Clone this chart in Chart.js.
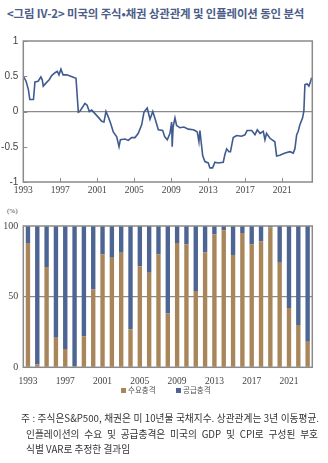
<!DOCTYPE html>
<html><head><meta charset="utf-8">
<script src="https://cdn.jsdelivr.net/npm/chart.js@4"></script>
<style>
body{margin:0;width:328px;height:463px;background:#fff;position:relative;overflow:hidden;font-family:"Noto Sans CJK KR",sans-serif;}
#title{position:absolute;left:7px;top:6px;font-size:11.4px;line-height:14px;font-weight:bold;color:#4b5d88;white-space:nowrap;letter-spacing:-0.1px;}
#c1wrap{position:absolute;left:0;top:30px;width:328px;height:170px;}
#c2wrap{position:absolute;left:0;top:215px;width:328px;height:175px;}
#pct{position:absolute;left:7px;top:207px;font-size:7px;line-height:9px;color:#444;font-family:"Liberation Serif",serif;}
.lg{position:absolute;top:385px;font-size:7.5px;line-height:10px;color:#555;white-space:nowrap;}
.sq{display:inline-block;width:5px;height:5px;margin-right:2px;vertical-align:0px;}
.note{position:absolute;font-size:9.7px;line-height:15px;color:#333;white-space:nowrap;}
.just{text-align:justify;text-align-last:justify;white-space:normal;}
</style></head>
<body>
<div id="title">&lt;그림 IV-2&gt; 미국의 주식•채권 상관관계 및 인플레이션 동인 분석</div>
<div id="c1wrap"><canvas id="c1"></canvas></div>
<div id="pct">(%)</div>
<div id="c2wrap"><canvas id="c2"></canvas></div>
<div class="lg" style="left:121px"><span class="sq" style="background:#a9855a"></span>수요충격</div>
<div class="lg" style="left:176px"><span class="sq" style="background:#4c6593"></span>공급충격</div>
<div class="note just" style="left:21px;top:411px;width:298px;height:15px;overflow:hidden">주 : 주식은S&amp;P500, 채권은 미 10년물 국채지수. 상관관계는 3년 이동평균.</div>
<div class="note just" style="left:26px;top:427px;width:292px;height:15px;overflow:hidden">인플레이션의 수요 및 공급충격은 미국의 GDP 및 CPI로 구성된 부호</div>
<div class="note" style="left:26px;top:442px">식별 VAR로 추정한 결과임</div>
<script>
// ---- Data: stock-bond correlation (3y moving average) ----
const lineYears = [1993.0,1993.3,1993.55,1993.7,1994.1,1994.26,1994.6,1994.9,1995.05,1995.16,1995.5,1995.8,1996.07,1996.43,1996.68,1996.86,1997.07,1997.3,1997.7,1998.12,1998.7,1998.8,1998.95,1999.1,1999.4,1999.67,1999.9,2000.14,2000.4,2000.75,2001.1,2001.48,2001.72,2001.94,2002.2,2002.45,2002.73,2003.1,2003.35,2003.5,2004.0,2004.35,2004.7,2005.08,2005.43,2005.8,2006.05,2006.4,2006.7,2007.0,2007.24,2007.6,2008.07,2008.3,2008.57,2008.86,2009.04,2009.1,2009.2,2009.4,2009.58,2009.94,2010.37,2010.84,2011.38,2011.56,2011.81,2011.99,2012.1,2012.29,2012.4,2012.64,2013.0,2013.18,2013.47,2013.72,2014.08,2014.62,2014.8,2014.99,2015.24,2015.4,2015.7,2016.07,2016.6,2016.97,2017.2,2017.7,2018.05,2018.3,2018.6,2018.95,2019.13,2019.3,2019.67,2020.2,2020.39,2020.74,2021.3,2021.83,2022.19,2022.37,2022.56,2022.73,2022.9,2023.2,2023.34,2023.45,2023.7,2023.88,2024.07,2024.17];
const lineValues = [0.50,0.43,0.31,0.17,0.17,0.42,0.43,0.49,0.45,0.36,0.41,0.45,0.51,0.55,0.57,0.52,0.60,0.52,0.52,0.50,0.47,0.47,-0.01,0.00,0.06,0.115,0.09,0.00,0.02,-0.03,-0.08,-0.14,-0.15,0.00,-0.08,-0.17,-0.29,-0.36,-0.50,-0.40,-0.39,-0.41,-0.37,-0.37,-0.31,-0.19,-0.01,0.05,-0.11,0.00,-0.10,-0.26,-0.27,-0.36,-0.40,-0.31,-0.15,-0.50,-0.22,-0.09,-0.20,-0.23,-0.22,-0.25,-0.26,-0.27,-0.29,-0.43,-0.27,-0.50,-0.63,-0.71,-0.73,-0.80,-0.80,-0.72,-0.73,-0.72,-0.61,-0.53,-0.57,-0.57,-0.37,-0.34,-0.35,-0.33,-0.27,-0.27,-0.33,-0.26,-0.31,-0.28,-0.40,-0.31,-0.38,-0.43,-0.63,-0.62,-0.59,-0.57,-0.59,-0.53,-0.33,-0.28,-0.19,-0.09,0.01,0.38,0.39,0.36,0.43,0.48];
const lineXTicks = [1993,1997,2001,2005,2009,2013,2017,2021];
const lineYTicks = [-1,-0.5,0,0.5,1];

// ---- Data: inflation drivers (share, %) ----
const barYears = ['1993','1994','1995','1996','1997','1998','1999','2000','2001','2002','2003','2004','2005','2006','2007','2008','2009','2010','2011','2012','2013','2014','2015','2016','2017','2018','2019','2020','2021','2022','2023'];
const demandShock = [88,2,71,21,13,1,22,55,80,77.5,81,27,71.5,67,80,38,88,87,54,81.5,94,97,79.5,95,87,89,99,74,42,30,18];
const supplyShock = [12,98,29,79,87,99,78,45,20,22.5,19,73,28.5,33,20,62,12,13,46,18.5,6,3,20.5,5,13,11,1,26,58,70,82];
const barYTicks = [0,50,100];
const seriesNames = ['수요충격','공급충격'];

const frameColor = '#8a8a8a';
function framePlugin(withTicks){
  return {
    id:'frame'+(withTicks?'T':''),
    afterDatasetsDraw(chart){
      const {ctx, chartArea:a} = chart;
      ctx.save();
      ctx.strokeStyle = frameColor; ctx.lineWidth = 1.5;
      ctx.strokeRect(a.left, a.top, a.right-a.left, a.bottom-a.top);
      if(withTicks){
        ctx.lineWidth = 1;
        chart.scales.x.ticks.forEach(t=>{
          const px = Math.round(chart.scales.x.getPixelForValue(t.value))+0.5;
          ctx.beginPath(); ctx.moveTo(px, a.bottom); ctx.lineTo(px, a.bottom-4); ctx.stroke();
        });
        chart.scales.y.ticks.forEach(t=>{
          const py = Math.round(chart.scales.y.getPixelForValue(t.value))+0.5;
          ctx.beginPath(); ctx.moveTo(a.left, py); ctx.lineTo(a.left+4, py); ctx.stroke();
        });
      }
      ctx.restore();
    }
  };
}

Chart.defaults.animation = false;
Chart.defaults.responsive = true;
Chart.defaults.maintainAspectRatio = false;

new Chart(document.getElementById('c1'), {
  type:'line',
  data:{datasets:[{data:lineYears.map((x,i)=>({x, y:lineValues[i]})), borderColor:'#3f5b8f', borderWidth:1.6, pointRadius:0, tension:0, fill:false}]},
  options:{
    layout:{padding:{top:7.3,right:15.7,left:0,bottom:0}},
    plugins:{legend:{display:false}, tooltip:{enabled:false}},
    scales:{
      x:{type:'linear', min:1993, max:2024.25,
        afterBuildTicks:s=>{s.ticks = lineXTicks.map(v=>({value:v}));},
        ticks:{autoSkip:false, maxRotation:0, padding:3, color:'#444', font:{family:'Liberation Serif', size:9.5}, callback:v=>String(v)},
        grid:{display:false, drawTicks:false}, border:{display:false},
        afterFit:s=>{s.height=18;}},
      y:{min:-1, max:1,
        afterBuildTicks:s=>{s.ticks = lineYTicks.map(v=>({value:v}));},
        ticks:{padding:5, color:'#444', font:{family:'Liberation Sans', size:10}, callback:v=>String(v)},
        grid:{color:c=>(c.tick && c.tick.value===0)?frameColor:'transparent', lineWidth:1.2, drawTicks:false}, border:{display:false},
        afterFit:s=>{s.width=23.3;}}
    }
  },
  plugins:[framePlugin(true)]
});

new Chart(document.getElementById('c2'), {
  type:'bar',
  data:{labels:barYears, datasets:[
    {label:seriesNames[0], data:demandShock, backgroundColor:'#a9855a', barPercentage:0.47, categoryPercentage:1},
    {label:seriesNames[1], data:supplyShock, backgroundColor:'#4c6593', barPercentage:0.47, categoryPercentage:1}
  ]},
  options:{
    layout:{padding:{top:8.3,right:15.7,left:0,bottom:0}},
    plugins:{legend:{display:false}, tooltip:{enabled:false}},
    scales:{
      x:{stacked:true,
        ticks:{autoSkip:false, maxRotation:0, padding:8, color:'#444', font:{family:'Liberation Serif', size:9.5}, callback:(v,i)=> i%4===0 ? barYears[i] : ''},
        grid:{display:false, drawTicks:false}, border:{display:false},
        afterFit:s=>{s.height=22.7;}},
      y:{stacked:true, min:0, max:100,
        afterBuildTicks:s=>{s.ticks = barYTicks.map(v=>({value:v}));},
        ticks:{padding:5, color:'#444', font:{family:'Liberation Serif', size:10}, callback:v=>String(v)},
        grid:{color:c=>(c.tick && c.tick.value===50)?frameColor:'transparent', lineWidth:1.2, drawTicks:false}, border:{display:false},
        afterFit:s=>{s.width=23.3;}}
    }
  },
  plugins:[framePlugin(false)]
});
</script>
</body></html>
